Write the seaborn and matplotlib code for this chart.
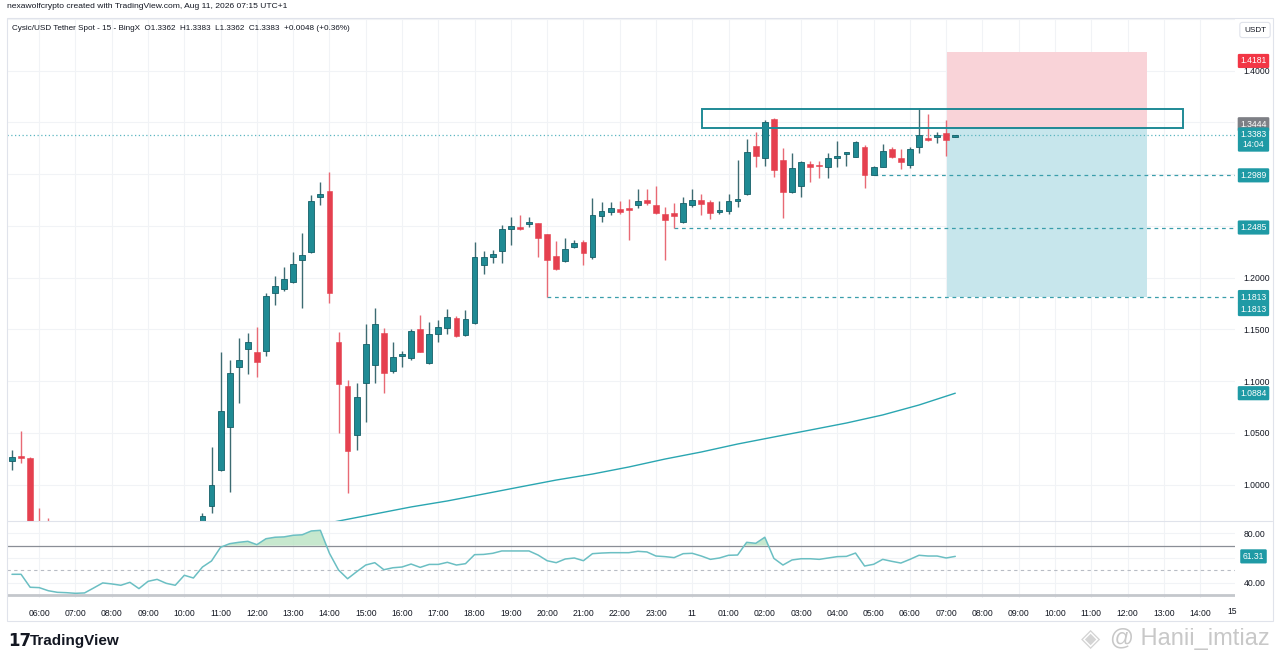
import numpy as np
import pandas as pd
import matplotlib
matplotlib.use("Agg")
import matplotlib.pyplot as plt
from matplotlib.patches import Rectangle
from matplotlib.lines import Line2D
import seaborn as sns

# ---------------- data ----------------
candle_open = [1.0232, 1.0265, 1.0258, 0.9550, 0.9490, 0.9460, 0.9410, 0.9380, 0.9360, 0.9350,
               0.9440, 0.9470, 0.9450, 0.9490, 0.9430, 0.9510, 0.9480, 0.9460, 0.9540, 0.9510,
               0.9580, 0.9570, 0.9797, 1.0142, 1.0560, 1.1140, 1.1314, 1.1285, 1.1292, 1.1849,
               1.1888, 1.1961, 1.2168, 1.2245, 1.2777, 1.2838, 1.1382, 1.0957, 1.0477, 1.0986,
               1.1157, 1.1463, 1.1101, 1.1246, 1.1221, 1.1504, 1.1173, 1.1456, 1.1517, 1.1611,
               1.1444, 1.1559, 1.2120, 1.2203, 1.2258, 1.2470, 1.2487, 1.2523, 1.2526, 1.2419,
               1.2210, 1.2161, 1.2297, 1.2345, 1.2203, 1.2599, 1.2632, 1.2664, 1.2661, 1.2705,
               1.2748, 1.2702, 1.2613, 1.2622, 1.2535, 1.2698, 1.2748, 1.2734, 1.2632, 1.2640,
               1.2744, 1.2809, 1.3275, 1.3154, 1.3536, 1.3134, 1.2831, 1.2889, 1.3099, 1.3082,
               1.3072, 1.3159, 1.3198, 1.3169, 1.3263, 1.2992, 1.3072, 1.3241, 1.3159, 1.3089,
               1.3266, 1.3353, 1.3362, 1.3401, 1.3362]
candle_high = [1.0335, 1.0522, 1.0268, 0.9778, 0.9680, 0.9550, 0.9500, 0.9460, 0.9440, 0.9480,
               0.9520, 0.9510, 0.9530, 0.9520, 0.9540, 0.9550, 0.9530, 0.9570, 0.9580, 0.9610,
               0.9620, 0.9727, 1.0364, 1.1285, 1.1205, 1.1417, 1.1469, 1.1527, 1.1855, 1.2016,
               1.2103, 1.2251, 1.2435, 1.2799, 1.2928, 1.3024, 1.1478, 1.1012, 1.0980, 1.1550,
               1.1707, 1.1517, 1.1376, 1.1295, 1.1504, 1.1640, 1.1575, 1.1591, 1.1698, 1.1630,
               1.1688, 1.2348, 1.2261, 1.2268, 1.2509, 1.2584, 1.2606, 1.2589, 1.2531, 1.2425,
               1.2354, 1.2381, 1.2364, 1.2364, 1.2773, 1.2729, 1.2729, 1.2744, 1.2757, 1.2854,
               1.2854, 1.2886, 1.2686, 1.2719, 1.2783, 1.2854, 1.2804, 1.2750, 1.2744, 1.2812,
               1.3137, 1.3337, 1.3411, 1.3524, 1.3545, 1.3250, 1.3208, 1.3125, 1.3130, 1.3130,
               1.3208, 1.3324, 1.3217, 1.3321, 1.3282, 1.3079, 1.3292, 1.3260, 1.3241, 1.3266,
               1.3637, 1.3582, 1.3411, 1.3524, 1.3383]
candle_low = [1.0142, 1.0210, 0.9480, 0.9420, 0.9400, 0.9380, 0.9350, 0.9320, 0.9310, 0.9330,
              0.9400, 0.9410, 0.9420, 0.9400, 0.9410, 0.9450, 0.9430, 0.9440, 0.9480, 0.9490,
              0.9520, 0.9550, 0.9729, 1.0130, 0.9932, 1.0789, 1.1070, 1.1043, 1.1246, 1.1736,
              1.1868, 1.1952, 1.1704, 1.2238, 1.2702, 1.1753, 1.0497, 0.9917, 1.0335, 1.0609,
              1.0980, 1.0883, 1.1079, 1.1134, 1.1205, 1.1282, 1.1166, 1.1382, 1.1456, 1.1427,
              1.1437, 1.1552, 1.2036, 1.2145, 1.2139, 1.2316, 1.2465, 1.2493, 1.2203, 1.1813,
              1.2075, 1.2152, 1.2290, 1.2120, 1.2178, 1.2535, 1.2606, 1.2615, 1.2364, 1.2676,
              1.2702, 1.2615, 1.2171, 1.2485, 1.2529, 1.2683, 1.2606, 1.2572, 1.2620, 1.2615,
              1.2683, 1.2799, 1.3072, 1.3079, 1.2970, 1.2574, 1.2818, 1.2783, 1.2928, 1.2960,
              1.2960, 1.3067, 1.3079, 1.3166, 1.2864, 1.2989, 1.3069, 1.3159, 1.3050, 1.3057,
              1.3202, 1.3321, 1.3299, 1.3176, 1.3362]
candle_close = [1.0271, 1.0258, 0.9550, 0.9490, 0.9460, 0.9410, 0.9380, 0.9360, 0.9350, 0.9440,
                0.9470, 0.9450, 0.9490, 0.9430, 0.9510, 0.9480, 0.9460, 0.9540, 0.9510, 0.9580,
                0.9570, 0.9698, 0.9997, 1.0712, 1.1076, 1.1205, 1.1376, 1.1188, 1.1826, 1.1920,
                1.1987, 1.2132, 1.2217, 1.2738, 1.2806, 1.1849, 1.0970, 1.0329, 1.0845, 1.1359,
                1.1550, 1.1082, 1.1234, 1.1263, 1.1488, 1.1285, 1.1456, 1.1527, 1.1617, 1.1437,
                1.1601, 1.2197, 1.2197, 1.2229, 1.2470, 1.2502, 1.2473, 1.2528, 1.2381, 1.2171,
                1.2087, 1.2277, 1.2338, 1.2242, 1.2606, 1.2647, 1.2671, 1.2638, 1.2655, 1.2744,
                1.2725, 1.2628, 1.2557, 1.2596, 1.2719, 1.2746, 1.2709, 1.2628, 1.2654, 1.2741,
                1.2748, 1.3212, 1.3179, 1.3507, 1.3041, 1.2831, 1.3057, 1.3115, 1.3069, 1.3077,
                1.3154, 1.3176, 1.3205, 1.3308, 1.2992, 1.3067, 1.3227, 1.3169, 1.3121, 1.3243,
                1.3379, 1.3330, 1.3368, 1.3330, 1.3383]

rsi_values = [46.8, 46.8, 36.3, 36.0, 33.5, 32.2, 31.9, 31.4, 31.7, 35.7,
              39.8, 39.0, 37.9, 40.3, 35.2, 41.1, 42.7, 39.5, 37.9, 46.0,
              43.8, 52.7, 57.6, 68.7, 71.6, 72.7, 73.5, 70.8, 75.6, 76.8,
              77.1, 78.4, 78.8, 81.9, 82.4, 63.8, 50.3, 43.2, 48.9, 54.3,
              56.2, 50.5, 52.1, 52.7, 55.1, 52.4, 54.8, 54.8, 56.5, 54.3,
              55.4, 62.7, 62.9, 63.8, 65.7, 65.7, 65.7, 65.7, 62.4, 57.8,
              56.2, 59.2, 60.0, 57.8, 63.5, 64.0, 64.3, 64.3, 64.3, 65.4,
              64.9, 61.6, 61.1, 60.3, 63.5, 63.8, 61.6, 58.9, 60.0, 62.2,
              62.4, 72.7, 71.9, 76.8, 59.7, 54.3, 58.4, 59.4, 59.4, 58.9,
              60.0, 61.1, 61.3, 64.0, 53.5, 54.9, 58.9, 57.3, 55.9, 58.9,
              62.2, 61.6, 61.6, 60.0, 61.31]

ma_index = [32, 36, 40, 44, 48, 52, 56, 60, 64, 68, 72, 76, 80, 84, 88, 92, 96, 100, 104]
ma_values = [0.9580, 0.9649, 0.9717, 0.9785, 0.9843, 0.9910, 0.9978, 1.0045, 1.0103, 1.0171,
             1.0248, 1.0316, 1.0393, 1.0461, 1.0528, 1.0596, 1.0674, 1.0770, 1.0884]

time_labels = ["06:00", "07:00", "08:00", "09:00", "10:00", "11:00", "12:00", "13:00", "14:00",
               "15:00", "16:00", "17:00", "18:00", "19:00", "20:00", "21:00", "22:00", "23:00",
               "11", "01:00", "02:00", "03:00", "04:00", "05:00", "06:00", "07:00", "08:00",
               "09:00", "10:00", "11:00", "12:00", "13:00", "14:00"]
time_index = [3, 7, 11, 15, 19, 23, 27, 31, 35, 39, 43, 47, 51, 55, 59, 63, 67, 71,
              75, 79, 83, 87, 91, 95, 99, 103, 107, 111, 115, 119, 123, 127, 131]

price_ticks = [1.00, 1.05, 1.10, 1.15, 1.20, 1.25, 1.30, 1.35, 1.40, 1.45]
price_tick_labels = ["1.0000", "1.0500", "1.1000", "1.1500", "1.2000", "", "", "", "1.4000", ""]
rsi_ticks = [40, 80]
rsi_tick_labels = ["40.00", "80.00"]

# position tool & drawings
entry_price = 1.3444
stop_price = 1.4181
target_price = 1.1813
position_start, position_end = 103.1, 125.1
zone_low, zone_high = 1.3444, 1.3630
zone_start, zone_end = 76.1, 129.1
level_prices = [1.2989, 1.2485, 1.1813]
level_starts = [95, 73, 59]
last_price = 1.3383
ma_last = 1.0884
rsi_last = 61.31

# ---------------- styling ----------------
W, H = 1280, 663
UP_FILL, UP_EDGE, UP_WICK = "#1f8b94", "#155f68", "#3d6b72"
DN_FILL, DN_WICK = "#e5404f", "#e86a75"
TEAL = "#1f9aa5"
GRID = "#f1f3f6"
TXT = "#131722"

sns.set_theme(style="white")
plt.rcParams["font.family"] = ["Liberation Sans", "DejaVu Sans"]

fig = plt.figure(figsize=(W / 100, H / 100), dpi=100)
fig.patch.set_facecolor("white")

def fy(py):
    return 1 - py / H

ax_p = fig.add_axes([7 / W, fy(521), (1235 - 7) / W, (521 - 18) / H])
ax_r = fig.add_axes([7 / W, fy(598), (1235 - 7) / W, (598 - 521) / H], sharex=ax_p)

xlim = (-0.55, 134.84)
ax_p.set_xlim(*xlim)
ax_p.set_ylim(0.96493, 1.45092)
ax_r.set_ylim(27.6, 89.96)

for ax in (ax_p, ax_r):
    for s in ax.spines.values():
        s.set_visible(False)
    ax.set_facecolor("white")

# grid
for t in time_index:
    ax_p.axvline(t, color=GRID, lw=0.8, zorder=0)
    ax_r.axvline(t, color=GRID, lw=0.8, zorder=0)
for p in price_ticks:
    ax_p.axhline(p, color=GRID, lw=0.8, zorder=0)
for r in [40, 60, 80]:
    ax_r.axhline(r, color=GRID, lw=0.8, zorder=0)

# position tool
ax_p.add_patch(Rectangle((position_start, entry_price), position_end - position_start,
                         stop_price - entry_price, facecolor="#f9d3d8", edgecolor="none", zorder=1))
ax_p.add_patch(Rectangle((position_start, target_price), position_end - position_start,
                         entry_price - target_price, facecolor="#c7e6ec", edgecolor="none", zorder=1))

# horizontal levels
for lp, ls in zip(level_prices, level_starts):
    ax_p.plot([ls, xlim[1]], [lp, lp], color="#3a9eab", lw=0.9, ls=(0, (3, 3)), zorder=2)
ax_p.axhline(last_price, color="#5cb6c0", lw=0.9, ls=(0, (1, 2)), zorder=2)

# moving average (seaborn)
ma_df = pd.DataFrame({"idx": ma_index, "ma": ma_values})
sns.lineplot(data=ma_df, x="idx", y="ma", ax=ax_p, color="#2aa6b1", linewidth=1.0, zorder=3)

# candles
o = np.array(candle_open); h = np.array(candle_high)
l = np.array(candle_low); c = np.array(candle_close)
idx = np.arange(len(o))
up = c >= o
bottom = np.minimum(o, c)
height = np.maximum(np.abs(c - o), 0.0015)
ax_p.vlines(idx[up], l[up], h[up], color=UP_WICK, lw=1.0, zorder=4)
ax_p.vlines(idx[~up], l[~up], h[~up], color=DN_WICK, lw=1.0, zorder=4)
ax_p.bar(idx[up], height[up], bottom=bottom[up], width=0.64, color=UP_FILL,
         edgecolor=UP_EDGE, linewidth=0.6, zorder=5)
ax_p.bar(idx[~up], height[~up], bottom=bottom[~up], width=0.64, color=DN_FILL,
         edgecolor=DN_FILL, linewidth=0.4, zorder=5)

# zone rectangle
ax_p.add_patch(Rectangle((zone_start, zone_low), zone_end - zone_start, zone_high - zone_low,
                         facecolor="none", edgecolor="#1f8a96", lw=1.4, zorder=6))

# RSI pane (seaborn)
rsi_df = pd.DataFrame({"idx": idx, "rsi": rsi_values})
ax_r.axhline(70, color="#8a8e96", lw=0.9, zorder=1)
ax_r.axhline(50, color="#b8bcc4", lw=0.8, ls=(0, (3, 3)), zorder=1)
ax_r.axhline(30, color="#c4c7cc", lw=2.0, zorder=1)
rv = np.array(rsi_values)
ax_r.fill_between(idx, 70, rv, where=rv > 70, interpolate=True, color="#b9e3c2", alpha=0.8,
                  lw=0, zorder=2)
sns.lineplot(data=rsi_df, x="idx", y="rsi", ax=ax_r, color="#6bbfc3", linewidth=1.1, zorder=3)
ax_r.set_xlabel(""); ax_r.set_ylabel("")
ax_p.set_xlabel(""); ax_p.set_ylabel("")

# ticks
ax_p.yaxis.tick_right()
ax_p.set_yticks(price_ticks)
ax_p.set_yticklabels(price_tick_labels)
ax_p.tick_params(axis="y", length=0, pad=6, labelsize=6.2, labelcolor=TXT)
ax_p.tick_params(axis="x", length=0, labelbottom=False)
ax_r.yaxis.tick_right()
ax_r.set_yticks(rsi_ticks)
ax_r.set_yticklabels(rsi_tick_labels)
ax_r.tick_params(axis="y", length=0, pad=6, labelsize=6.2, labelcolor=TXT)
ax_r.set_xticks(time_index)
ax_r.set_xticklabels(time_labels)
ax_r.tick_params(axis="x", length=0, pad=8, labelsize=6.2, labelcolor=TXT)
ax_r.set_xlim(*xlim)
fig.text(1232 / W, fy(612), "15", fontsize=6.2, color=TXT, ha="center", va="center")

# price-scale tags
def tag(ax, y, text, fc, dy_px=0.0, fs=6.2):
    ax.annotate(text, xy=(1.0, y), xycoords=("axes fraction", "data"),
                xytext=(18.5 * 0.72, -dy_px * 0.72), textcoords="offset points",
                ha="center", va="center", fontsize=fs, color="white", linespacing=1.15,
                annotation_clip=False,
                bbox=dict(boxstyle="round,pad=0.3,rounding_size=0.15", fc=fc, ec="none"))

tag(ax_p, stop_price, "1.4181", "#f23645", dy_px=9)
tag(ax_p, entry_price, "1.3444", "#7d7f85", dy_px=-4)
tag(ax_p, last_price, "1.3383\n14:04", TEAL, dy_px=5)
tag(ax_p, level_prices[0], "1.2989", TEAL)
tag(ax_p, level_prices[1], "1.2485", TEAL)
tag(ax_p, level_prices[2], "1.1813", TEAL)
tag(ax_p, target_price, "1.1813", TEAL, dy_px=12)
tag(ax_p, ma_last, "1.0884", TEAL)
tag(ax_r, rsi_last, "61.31", TEAL)

# frame & separators
fig.add_artist(Rectangle((6.5 / W, fy(621)), (1272.5 - 6.5) / W, (621 - 18) / H,
                         transform=fig.transFigure, fill=False, ec="#e0e3eb", lw=0.8))
fig.add_artist(Line2D([7 / W, 1272 / W], [fy(521), fy(521)], transform=fig.transFigure,
                      color="#e0e3eb", lw=0.8))

# header texts
fig.text(7 / W, fy(7), "nexawolfcrypto created with TradingView.com, Aug 11, 2026 07:15 UTC+1",
         fontsize=6.1, color=TXT, ha="left", va="center")
fig.text(12 / W, fy(28),
         "Cysic/USD Tether Spot - 15 - BingX  O1.3362  H1.3383  L1.3362  C1.3383  +0.0048 (+0.36%)",
         fontsize=5.9, color=TXT, ha="left", va="center")
fig.text(1255 / W, fy(30), "USDT", fontsize=5.9, color=TXT, ha="center", va="center",
         bbox=dict(boxstyle="round,pad=0.5,rounding_size=0.3", fc="white", ec="#e0e3eb", lw=0.8))

# footer
fig.text(8 / W, fy(641), "17", fontsize=12, fontweight="heavy", color=TXT, ha="left", va="center",
         family=["DejaVu Sans"])
fig.text(30 / W, fy(641), "TradingView", fontsize=11, fontweight="bold", color=TXT,
         ha="left", va="center")
fig.text(1091 / W, fy(639), "\u25c8", fontsize=18, color="#d4d4d4", ha="center", va="center",
         family=["DejaVu Sans"])
fig.text(1110 / W, fy(639), "@ Hanii_imtiaz", fontsize=17, color="#c8c8c8", ha="left",
         va="center")

fig.savefig("out.png", dpi=100, facecolor="white")
